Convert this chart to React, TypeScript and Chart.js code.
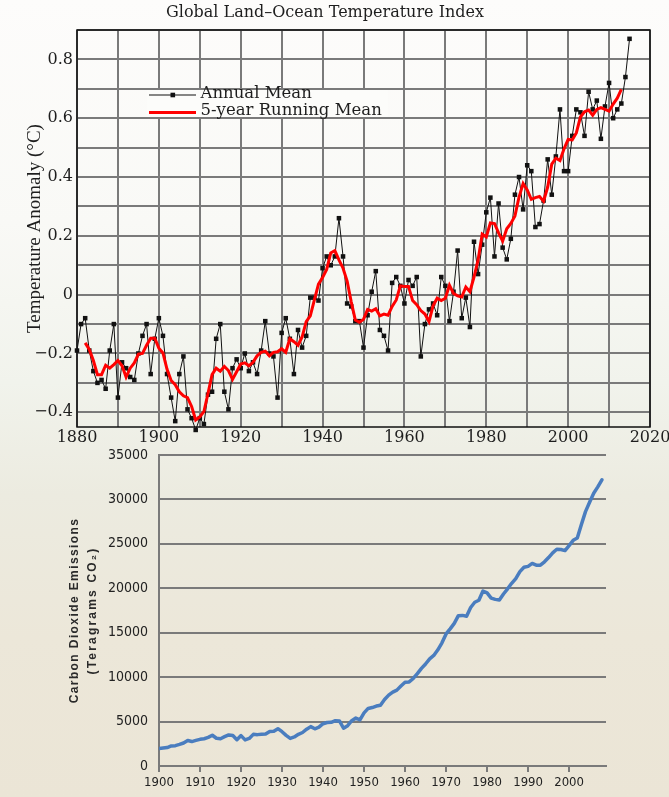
import React, { useEffect, useRef } from 'react';
import { Chart, registerables } from 'chart.js';

Chart.register(...registerables);

// ---------- Temperature chart data ----------
const ANNUAL_START_YEAR = 1880;
const ANNUAL_MEAN = [
  -0.19, -0.10, -0.08, -0.19, -0.26, -0.30, -0.29, -0.32, -0.19, -0.10,
  -0.35, -0.23, -0.25, -0.28, -0.29, -0.20, -0.14, -0.10, -0.27, -0.15,
  -0.08, -0.14, -0.27, -0.35, -0.43, -0.27, -0.21, -0.39, -0.42, -0.46,
  -0.42, -0.44, -0.34, -0.33, -0.15, -0.10, -0.33, -0.39, -0.25, -0.22,
  -0.25, -0.20, -0.26, -0.23, -0.27, -0.19, -0.09, -0.20, -0.21, -0.35,
  -0.13, -0.08, -0.15, -0.27, -0.12, -0.18, -0.14, -0.01, -0.01, -0.02,
  0.09, 0.13, 0.10, 0.13, 0.26, 0.13, -0.03, -0.04, -0.09, -0.09,
  -0.18, -0.07, 0.01, 0.08, -0.12, -0.14, -0.19, 0.04, 0.06, 0.03,
  -0.03, 0.05, 0.03, 0.06, -0.21, -0.10, -0.05, -0.03, -0.07, 0.06,
  0.03, -0.09, 0.01, 0.15, -0.08, -0.01, -0.11, 0.18, 0.07, 0.17,
  0.28, 0.33, 0.13, 0.31, 0.16, 0.12, 0.19, 0.34, 0.40, 0.29,
  0.44, 0.42, 0.23, 0.24, 0.32, 0.46, 0.34, 0.47, 0.63, 0.42,
  0.42, 0.54, 0.63, 0.62, 0.54, 0.69, 0.63, 0.66, 0.53, 0.64,
  0.72, 0.60, 0.63, 0.65, 0.74, 0.87,
];

const RUNNING_START_YEAR = 1882;
const RUNNING_MEAN = [
  -0.164, -0.186, -0.224, -0.272, -0.272, -0.240, -0.250, -0.238,
  -0.224, -0.242, -0.280, -0.250, -0.232, -0.202, -0.200, -0.172, -0.148, -0.148,
  -0.182, -0.198, -0.254, -0.292, -0.306, -0.330, -0.344, -0.350, -0.380, -0.426,
  -0.416, -0.398, -0.336, -0.272, -0.250, -0.260, -0.244, -0.258, -0.288, -0.262,
  -0.236, -0.232, -0.242, -0.230, -0.208, -0.196, -0.192, -0.208, -0.196, -0.194,
  -0.184, -0.196, -0.150, -0.160, -0.172, -0.144, -0.092, -0.072, -0.018, 0.036,
  0.058, 0.086, 0.142, 0.150, 0.118, 0.090, 0.046, -0.024, -0.086, -0.094,
  -0.084, -0.050, -0.056, -0.048, -0.072, -0.066, -0.070, -0.040, -0.018, 0.030,
  0.028, 0.028, -0.020, -0.034, -0.054, -0.066, -0.092, -0.038, -0.012, -0.020,
  -0.012, 0.032, 0.004, -0.004, -0.008, 0.026, 0.010, 0.060, 0.118, 0.206,
  0.196, 0.244, 0.242, 0.210, 0.182, 0.224, 0.242, 0.268, 0.332, 0.378,
  0.356, 0.324, 0.330, 0.334, 0.318, 0.366, 0.444, 0.464, 0.456, 0.496,
  0.528, 0.526, 0.550, 0.604, 0.622, 0.628, 0.610, 0.630, 0.636, 0.630,
  0.624, 0.648, 0.668, 0.698,
];

const TEMP_X_GRID = [1880, 1890, 1900, 1910, 1920, 1930, 1940, 1950, 1960, 1970, 1980, 1990, 2000, 2010, 2020];
const TEMP_X_LABELED = [1880, 1900, 1920, 1940, 1960, 1980, 2000, 2020];
const TEMP_Y_GRID = [-0.4, -0.3, -0.2, -0.1, 0, 0.1, 0.2, 0.3, 0.4, 0.5, 0.6, 0.7, 0.8, 0.9];
const TEMP_Y_LABELED = [-0.4, -0.2, 0, 0.2, 0.4, 0.6, 0.8];

// ---------- CO2 chart data (Teragrams CO2) ----------
const CO2_START_YEAR = 1900;
const CO2_EMISSIONS = [
  1960, 2020, 2080, 2260, 2290, 2430, 2590, 2870, 2750, 2880,
  3000, 3070, 3220, 3460, 3120, 3070, 3300, 3500, 3430, 2960,
  3420, 2940, 3100, 3560, 3530, 3580, 3600, 3890, 3910, 4200,
  3860, 3450, 3110, 3270, 3570, 3770, 4140, 4430, 4190, 4370,
  4760, 4890, 4920, 5100, 5070, 4250, 4540, 5100, 5390, 5200,
  5980, 6480, 6580, 6750, 6840, 7490, 7980, 8320, 8540, 9000,
  9420, 9460, 9850, 10390, 10980, 11480, 12060, 12440, 13080, 13860,
  14860, 15430, 16050, 16920, 16950, 16850, 17840, 18430, 18650, 19690,
  19490, 18890, 18750, 18680, 19360, 19940, 20560, 21090, 21870, 22360,
  22470, 22800, 22600, 22600, 22980, 23460, 23990, 24390, 24360, 24240,
  24810, 25400, 25650, 27190, 28630, 29680, 30690, 31410, 32210,
];
const CO2_X_TICKS = [1900, 1910, 1920, 1930, 1940, 1950, 1960, 1970, 1980, 1990, 2000];
const CO2_Y_TICKS = [0, 5000, 10000, 15000, 20000, 25000, 30000, 35000];

const SERIF = '"DejaVu Serif", serif';
const NARROW = '"Liberation Sans Narrow", "DejaVu Sans Condensed", "Liberation Sans", sans-serif';
const GRID = '#7a7a7a';

const near = (a: number, b: number) => Math.abs(a - b) < 1e-6;

const line = (ctx: any, x1: number, y1: number, x2: number, y2: number) => {
  ctx.beginPath();
  ctx.moveTo(x1, y1);
  ctx.lineTo(x2, y2);
  ctx.stroke();
};

// Temperature chart: frame, legend, y title (grid comes from Chart.js scales)
const tempDecor = {
  id: 'tempDecor',
  beforeDatasetsDraw(chart: any) {
    const { ctx, chartArea: a } = chart;
    ctx.save();
    ctx.strokeStyle = '#111';
    ctx.lineWidth = 1.5;
    ctx.strokeRect(a.left, a.top, a.right - a.left, a.bottom - a.top);
    ctx.restore();
  },
  afterDraw(chart: any) {
    const { ctx, chartArea: a } = chart;
    const bx = a.left + 70;
    const by = a.top + 60;
    ctx.save();
    ctx.fillStyle = '#fcfcfa';
    ctx.fillRect(bx, by, 241, 27);
    ctx.strokeStyle = '#111';
    ctx.lineWidth = 1;
    line(ctx, bx + 2, by + 5, bx + 49, by + 5);
    ctx.fillStyle = '#111';
    ctx.fillRect(bx + 23.5, by + 2.7, 4.6, 4.6);
    ctx.strokeStyle = '#f00';
    ctx.lineWidth = 3;
    line(ctx, bx + 2, by + 22.5, bx + 49, by + 22.5);
    ctx.fillStyle = '#1e1e1e';
    ctx.font = '16.5px ' + SERIF;
    ctx.textAlign = 'left';
    ctx.textBaseline = 'middle';
    ctx.fillText('Annual Mean', bx + 53.5, by + 4);
    ctx.fillText('5-year Running Mean', bx + 53.5, by + 21);
    ctx.restore();

    ctx.save();
    ctx.translate(35, (a.top + a.bottom) / 2);
    ctx.rotate(-Math.PI / 2);
    ctx.font = '19px "Liberation Serif", serif';
    ctx.fillStyle = '#1e1e1e';
    ctx.textAlign = 'center';
    ctx.textBaseline = 'middle';
    ctx.fillText('Temperature Anomaly (\u00B0C)', 0, 0);
    ctx.restore();
  },
};

// CO2 chart: y title
const co2Decor = {
  id: 'co2Decor',
  afterDraw(chart: any) {
    const { ctx, chartArea: a } = chart;
    const cy = (a.top + a.bottom) / 2;
    ctx.save();
    ctx.fillStyle = '#2a2a2a';
    ctx.textAlign = 'center';
    ctx.textBaseline = 'middle';
    ctx.font = 'bold 12px "Liberation Sans", sans-serif';
    ctx.translate(75, cy);
    ctx.rotate(-Math.PI / 2);
    (ctx as any).letterSpacing = '1.4px';
    ctx.fillText('Carbon Dioxide Emissions', 0, 0);
    (ctx as any).letterSpacing = '2.2px';
    ctx.fillText('(Teragrams CO\u2082)', 0, 18);
    ctx.restore();
  },
};

export default function App() {
  const topRef = useRef<HTMLCanvasElement>(null);
  const botRef = useRef<HTMLCanvasElement>(null);

  useEffect(() => {
    const annualPoints = ANNUAL_MEAN.map((y, i) => ({ x: ANNUAL_START_YEAR + i, y }));
    const runningPoints = RUNNING_MEAN.map((y, i) => ({ x: RUNNING_START_YEAR + i, y }));
    const co2Points = CO2_EMISSIONS.map((y, i) => ({ x: CO2_START_YEAR + i, y }));

    const top = new Chart(topRef.current as HTMLCanvasElement, {
      type: 'line',
      data: {
        datasets: [
          {
            label: '5-year Running Mean',
            data: runningPoints,
            borderColor: '#ff0000',
            borderWidth: 3,
            pointRadius: 0,
            tension: 0,
            order: 0,
            clip: false as any,
          },
          {
            label: 'Annual Mean',
            data: annualPoints,
            borderColor: '#111111',
            borderWidth: 1,
            pointStyle: 'rect',
            pointRadius: 3.2,
            pointBackgroundColor: '#111111',
            pointBorderColor: '#111111',
            pointBorderWidth: 0,
            tension: 0,
            order: 1,
            clip: false as any,
          },
        ],
      },
      options: {
        animation: false,
        responsive: false,
        maintainAspectRatio: false,
        layout: { padding: { left: 0, right: 19, top: 0, bottom: 0 } },
        plugins: {
          legend: { display: false },
          tooltip: { enabled: false },
          title: {
            display: true,
            text: 'Global Land\u2013Ocean Temperature Index',
            color: '#1e1e1e',
            font: { family: SERIF, size: 16, weight: 'normal' as any },
            padding: { top: 3, bottom: 7.8 },
          },
        },
        scales: {
          x: {
            type: 'linear',
            min: 1880,
            max: 2020,
            grid: { display: true, drawOnChartArea: true, color: GRID, lineWidth: 2, drawTicks: false },
            border: { display: false },
            afterBuildTicks: (s: any) => {
              s.ticks = TEMP_X_GRID.map((v) => ({ value: v }));
            },
            ticks: {
              autoSkip: false,
              maxRotation: 0,
              padding: 1,
              color: '#1e1e1e',
              font: { family: SERIF, size: 16 },
              callback: (v: any) => (TEMP_X_LABELED.includes(Number(v)) ? String(v) : ''),
            },
            afterFit: (s: any) => {
              s.height = 21;
              s.paddingLeft = 0;
              s.paddingRight = 0;
            },
          },
          y: {
            type: 'linear',
            min: -0.45,
            max: 0.9,
            grid: { display: true, drawOnChartArea: true, color: GRID, lineWidth: 2, drawTicks: false },
            border: { display: false },
            afterBuildTicks: (s: any) => {
              s.ticks = TEMP_Y_GRID.map((v) => ({ value: v }));
            },
            ticks: {
              autoSkip: false,
              padding: 4,
              color: '#1e1e1e',
              font: { family: SERIF, size: 16 },
              callback: (v: any) => {
                const n = Number(v);
                const lab = TEMP_Y_LABELED.find((t) => near(t, n));
                if (lab === undefined) return '';
                if (near(lab, 0)) return '0';
                return (lab < 0 ? '\u2212' : '') + Math.abs(lab).toFixed(1);
              },
            },
            afterFit: (s: any) => {
              s.width = 77;
              s.paddingTop = 0;
              s.paddingBottom = 0;
            },
          },
        },
      },
      plugins: [tempDecor],
    });

    const bot = new Chart(botRef.current as HTMLCanvasElement, {
      type: 'line',
      data: {
        datasets: [
          {
            label: 'Carbon Dioxide Emissions',
            data: co2Points,
            borderColor: '#4a7dbf',
            borderWidth: 3.5,
            borderJoinStyle: 'round',
            borderCapStyle: 'round',
            pointRadius: 0,
            tension: 0,
          },
        ],
      },
      options: {
        animation: false,
        responsive: false,
        maintainAspectRatio: false,
        layout: { padding: { left: 0, right: 63, top: 7, bottom: 0 } },
        plugins: { legend: { display: false }, tooltip: { enabled: false }, title: { display: false } },
        scales: {
          x: {
            type: 'linear',
            min: 1900,
            max: 2009,
            grid: {
              display: true,
              drawOnChartArea: false,
              drawTicks: true,
              tickLength: 6,
              tickWidth: 2,
              tickColor: GRID,
              color: GRID,
              lineWidth: 2,
            },
            border: { display: true, color: GRID, width: 2 },
            afterBuildTicks: (s: any) => {
              s.ticks = CO2_X_TICKS.map((v) => ({ value: v }));
            },
            ticks: {
              autoSkip: false,
              maxRotation: 0,
              padding: 3,
              color: '#222',
              font: { family: NARROW, size: 13 },
              callback: (v: any) => String(v),
            },
            afterFit: (s: any) => {
              s.height = 31;
              s.paddingLeft = 0;
              s.paddingRight = 0;
            },
          },
          y: {
            type: 'linear',
            min: 0,
            max: 35000,
            grid: { display: true, drawOnChartArea: true, color: GRID, lineWidth: 2, drawTicks: false },
            border: { display: true, color: GRID, width: 2 },
            afterBuildTicks: (s: any) => {
              s.ticks = CO2_Y_TICKS.map((v) => ({ value: v }));
            },
            ticks: {
              autoSkip: false,
              padding: 11,
              color: '#222',
              font: { family: NARROW, size: 14 },
              callback: (v: any) => String(v),
            },
            afterFit: (s: any) => {
              s.width = 159;
              s.paddingTop = 0;
              s.paddingBottom = 0;
            },
          },
        },
      },
      plugins: [co2Decor],
    });

    return () => {
      top.destroy();
      bot.destroy();
    };
  }, []);

  return (
    <div
      style={{
        position: 'fixed',
        left: 0,
        top: 0,
        width: 669,
        height: 797,
        overflow: 'hidden',
        background:
          'linear-gradient(180deg, #fdfcfb 0%, #f9f9f6 28%, #f1f3ec 48%, #ecebe0 62%, #ece7d9 80%, #ebe5d6 100%)',
      }}
    >
      <canvas ref={topRef} width={669} height={448} style={{ position: 'absolute', left: 0, top: 0 }} />
      <canvas ref={botRef} width={669} height={349} style={{ position: 'absolute', left: 0, top: 448 }} />
    </div>
  );
}
